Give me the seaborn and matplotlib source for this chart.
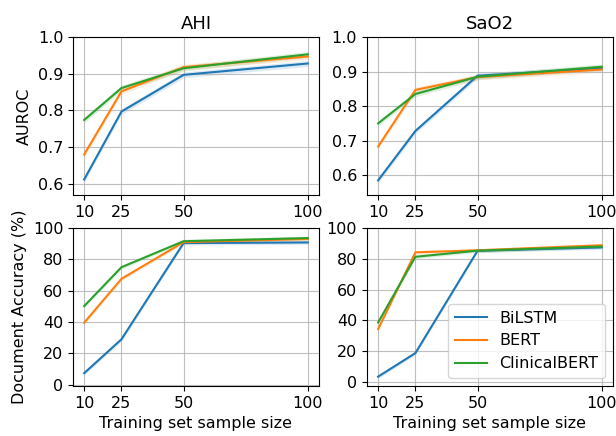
import numpy as np
import pandas as pd
import matplotlib
matplotlib.use("Agg")
import matplotlib.pyplot as plt
import seaborn as sns

# training set sizes
sizes = [10, 25, 50, 100]
models = ["BiLSTM", "BERT", "ClinicalBERT"]

# AUROC, AHI
ahi_auroc_bilstm = [0.612, 0.797, 0.897, 0.928]
ahi_auroc_bert = [0.680, 0.852, 0.918, 0.947]
ahi_auroc_clinical = [0.774, 0.861, 0.915, 0.953]

# AUROC, SaO2
sao2_auroc_bilstm = [0.585, 0.728, 0.888, 0.910]
sao2_auroc_bert = [0.683, 0.847, 0.884, 0.906]
sao2_auroc_clinical = [0.750, 0.835, 0.885, 0.914]

# Document accuracy (%), AHI
ahi_acc_bilstm = [7.4, 29.0, 90.4, 90.8]
ahi_acc_bert = [39.6, 67.6, 91.0, 93.0]
ahi_acc_clinical = [50.2, 75.0, 91.6, 93.6]

# Document accuracy (%), SaO2
sao2_acc_bilstm = [3.4, 18.7, 85.2, 87.4]
sao2_acc_bert = [34.3, 84.2, 85.5, 88.8]
sao2_acc_clinical = [38.6, 81.3, 85.3, 88.0]

# rough half-width of the shaded bands
band_auroc = 0.008
band_acc = 1.2


def to_frame(series):
    rows = []
    for name, vals in zip(models, series):
        for s, v in zip(sizes, vals):
            rows.append({"size": s, "value": v, "model": name})
    return pd.DataFrame(rows)


panels = [
    (to_frame([ahi_auroc_bilstm, ahi_auroc_bert, ahi_auroc_clinical]), band_auroc, (0.57, 1.0), "AHI", "AUROC"),
    (to_frame([sao2_auroc_bilstm, sao2_auroc_bert, sao2_auroc_clinical]), band_auroc, (0.543, 1.0), "SaO2", None),
    (to_frame([ahi_acc_bilstm, ahi_acc_bert, ahi_acc_clinical]), band_acc, (-0.7, 100), None, "Document Accuracy (%)"),
    (to_frame([sao2_acc_bilstm, sao2_acc_bert, sao2_acc_clinical]), band_acc, (-2.6, 100), None, None),
]

palette = dict(zip(models, sns.color_palette("tab10", 3)))

fig, axes = plt.subplots(2, 2, figsize=(6.16, 4.36), dpi=100)
plt.subplots_adjust(left=0.1185, right=0.995, top=0.915, bottom=0.115, wspace=0.195, hspace=0.21)

for i, (ax, (df, band, ylim, title, ylabel)) in enumerate(zip(axes.flat, panels)):
    sns.lineplot(data=df, x="size", y="value", hue="model", palette=palette,
                 errorbar=None, linewidth=1.5, ax=ax, legend=(i == 3))
    for name in models:
        d = df[df["model"] == name]
        ax.fill_between(d["size"], d["value"] - band, d["value"] + band,
                        color=palette[name], alpha=0.15, linewidth=0)
    ax.set_xticks(sizes)
    ax.set_ylim(*ylim)
    ax.grid(True, color="#b0b0b0", linewidth=0.8, alpha=0.8)
    ax.tick_params(labelsize=11.5)
    ax.set_xlabel("Training set sample size" if i >= 2 else "", fontsize=11.5)
    ax.set_ylabel(ylabel if ylabel else "", fontsize=11.5)
    if title:
        ax.set_title(title, fontsize=13)

axes[0, 0].set_yticks([0.6, 0.7, 0.8, 0.9, 1.0])
axes[0, 1].set_yticks([0.6, 0.7, 0.8, 0.9, 1.0])
axes[1, 0].set_yticks([0, 20, 40, 60, 80, 100])
axes[1, 1].set_yticks([0, 20, 40, 60, 80, 100])

leg = axes[1, 1].legend(loc="lower right", fontsize=11.5, title=None)

plt.savefig("out.png", dpi=100)
